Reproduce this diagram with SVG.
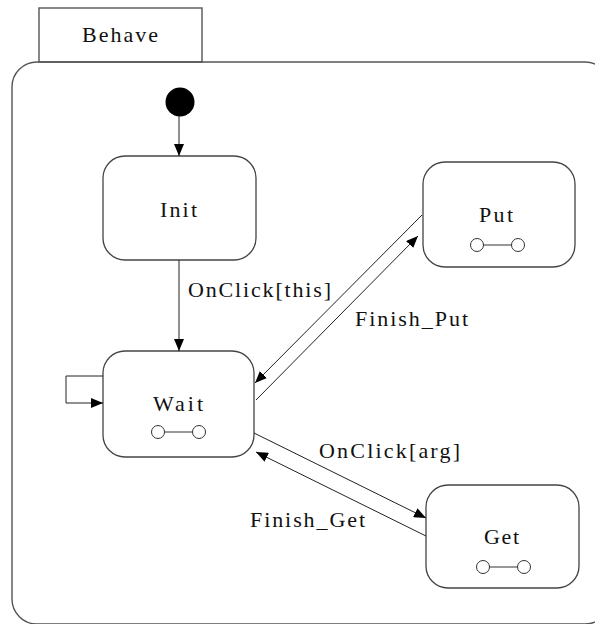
<svg xmlns="http://www.w3.org/2000/svg" width="595" height="624" viewBox="0 0 595 624">
  <style>
    .frame { fill: none; stroke: #555; stroke-width: 1.4; }
    .state { fill: #fff; stroke: #444; stroke-width: 1.3; }
    .edge { fill: none; stroke: #222; stroke-width: 1; }
    .sub { fill: #fff; stroke: #333; stroke-width: 1; }
  </style>
  <defs>
    <marker id="arrow" markerUnits="userSpaceOnUse" markerWidth="12" markerHeight="10" refX="12" refY="5" orient="auto">
      <path d="M0,0 L12,5 L0,10 z" fill="#000"/>
    </marker>
    <g id="subIcon">
      <line x1="0" y1="0" x2="41" y2="0" stroke="#333" stroke-width="1.2"/>
      <circle class="sub" cx="0" cy="0" r="6.5"/>
      <circle class="sub" cx="41" cy="0" r="6.5"/>
    </g>
  </defs>

  <!-- composite state "Behave": name tab and rounded body -->
  <g id="behave">
    <rect class="frame" x="39" y="8" width="163" height="54"/>
    <rect class="frame" x="12" y="62" width="598" height="562" rx="25" ry="25"/>
    <text style="font-family:'Liberation Serif',serif !important;font-size:22px" fill="#111" x="82" y="42" textLength="76" lengthAdjust="spacing">Behave</text>
  </g>

  <!-- initial pseudo-state -->
  <g id="initial">
    <circle cx="180" cy="102" r="14.5" fill="#000"/>
  </g>

  <g id="init">
    <rect class="state" x="103" y="156" width="153" height="104" rx="22" ry="22"/>
    <text style="font-family:'Liberation Serif',serif !important;font-size:22px" fill="#111" x="160" y="217" textLength="37" lengthAdjust="spacing">Init</text>
  </g>

  <g id="wait">
    <rect class="state" x="103" y="351" width="151" height="106" rx="22" ry="22"/>
    <text style="font-family:'Liberation Serif',serif !important;font-size:22px" fill="#111" x="153" y="411" textLength="50" lengthAdjust="spacing">Wait</text>
    <use href="#subIcon" x="158" y="432"/>
  </g>

  <g id="put">
    <rect class="state" x="423" y="162" width="152" height="105" rx="22" ry="22"/>
    <text style="font-family:'Liberation Serif',serif !important;font-size:22px" fill="#111" x="479" y="222" textLength="34" lengthAdjust="spacing">Put</text>
    <use href="#subIcon" x="477" y="245"/>
  </g>

  <g id="get">
    <rect class="state" x="426" y="485" width="153" height="103" rx="22" ry="22"/>
    <text style="font-family:'Liberation Serif',serif !important;font-size:22px" fill="#111" x="484" y="544" textLength="35" lengthAdjust="spacing">Get</text>
    <use href="#subIcon" x="483" y="567"/>
  </g>

  <!-- transitions -->
  <g id="connectors">
    <line class="edge" x1="179" y1="116" x2="179" y2="156" marker-end="url(#arrow)"/>
    <line class="edge" x1="179" y1="260" x2="179" y2="351" marker-end="url(#arrow)"/>
    <polyline class="edge" points="103,376 66,376 66,403 103,403" marker-end="url(#arrow)"/>
    <line class="edge" x1="422" y1="215" x2="255" y2="383" marker-end="url(#arrow)"/>
    <line class="edge" x1="256" y1="400" x2="418" y2="236" marker-end="url(#arrow)"/>
    <line class="edge" x1="254" y1="433" x2="426" y2="518" marker-end="url(#arrow)"/>
    <line class="edge" x1="426" y1="536" x2="256" y2="452" marker-end="url(#arrow)"/>
    <text style="font-family:'Liberation Serif',serif !important;font-size:22px" fill="#111" x="188" y="297" textLength="143" lengthAdjust="spacing">OnClick[this]</text>
    <text style="font-family:'Liberation Serif',serif !important;font-size:22px" fill="#111" x="355" y="326" textLength="113" lengthAdjust="spacing">Finish_Put</text>
    <text style="font-family:'Liberation Serif',serif !important;font-size:22px" fill="#111" x="319" y="458" textLength="141" lengthAdjust="spacing">OnClick[arg]</text>
    <text style="font-family:'Liberation Serif',serif !important;font-size:22px" fill="#111" x="250" y="527" textLength="115" lengthAdjust="spacing">Finish_Get</text>
  </g>
</svg>
